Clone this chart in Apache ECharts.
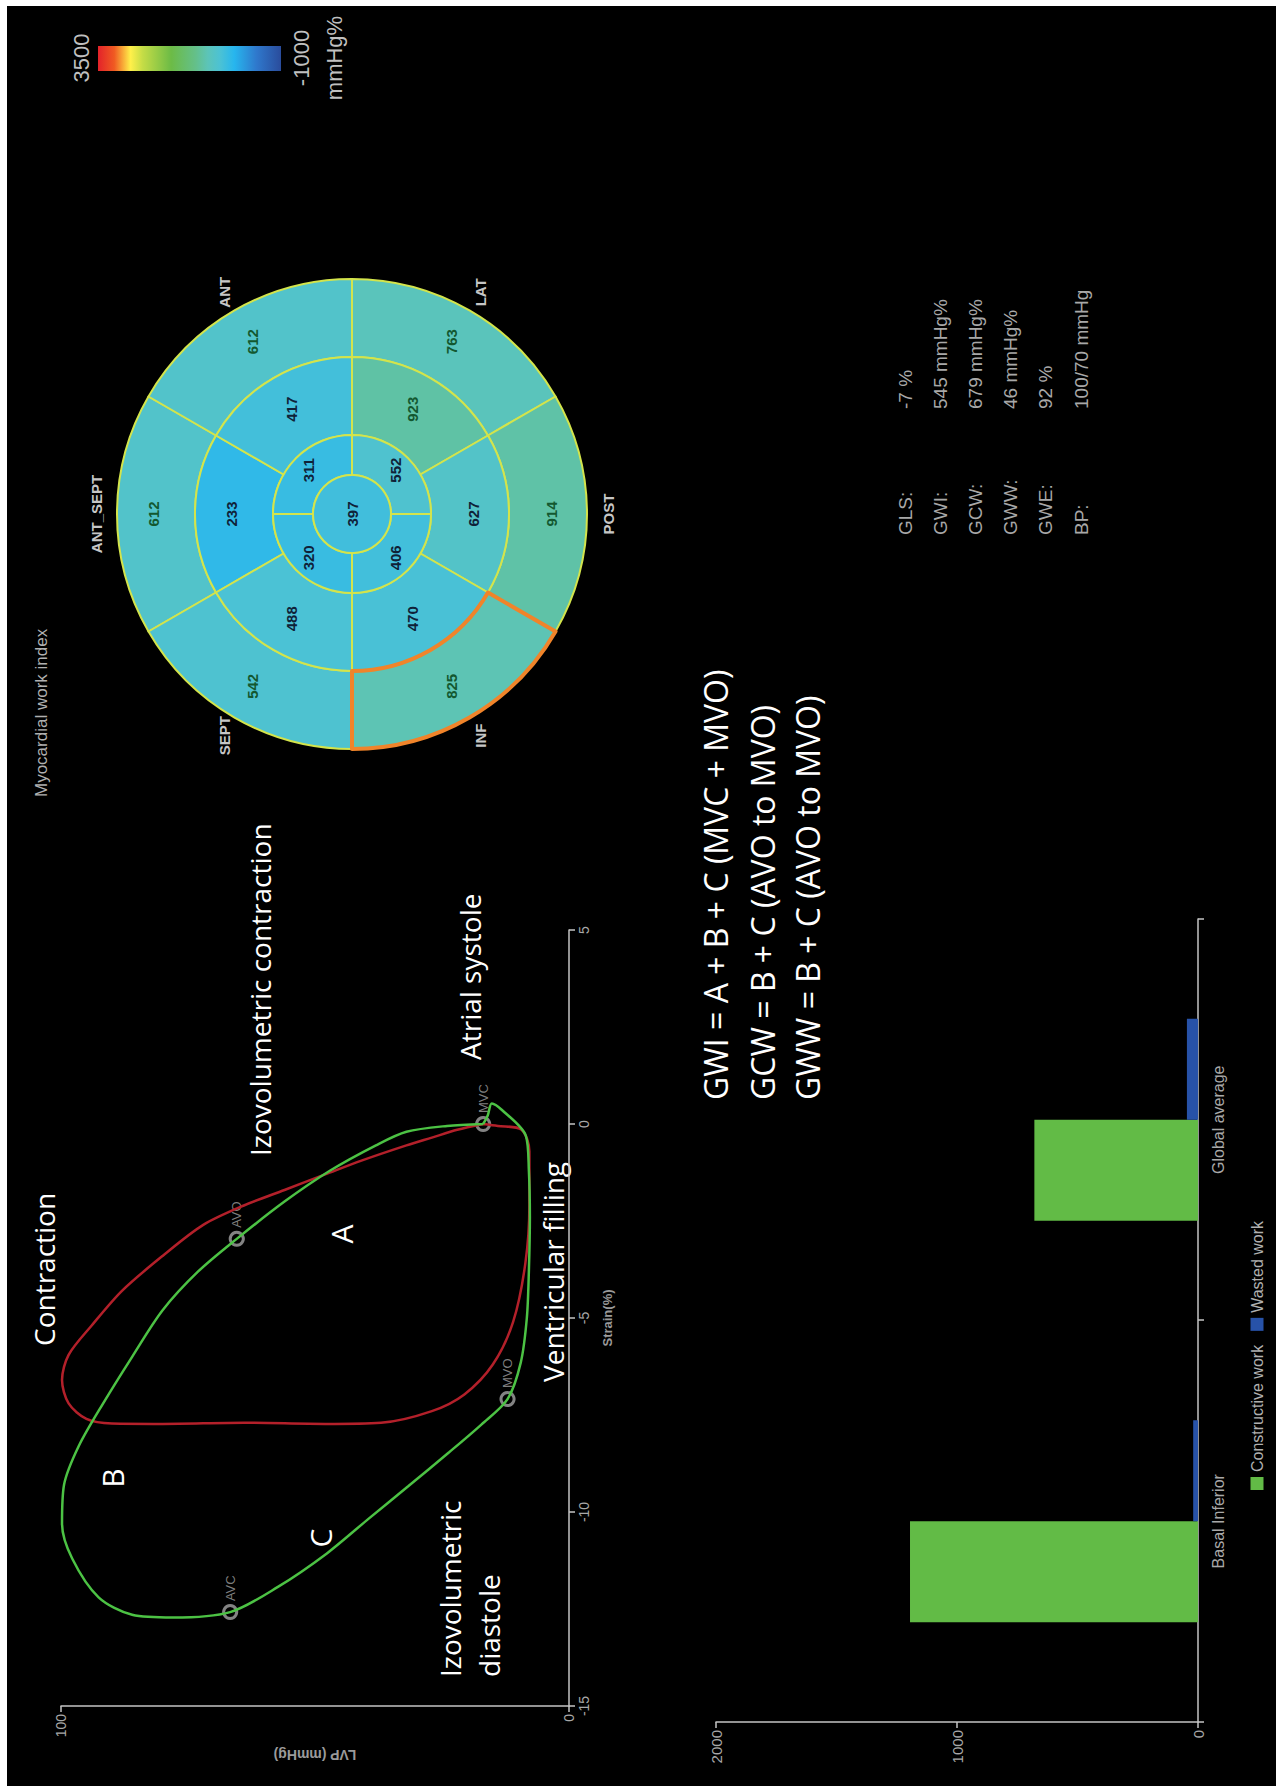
<!DOCTYPE html>
<html>
<head>
<meta charset="utf-8">
<title>Myocardial work</title>
<script src="https://cdn.jsdelivr.net/npm/echarts@6/dist/echarts.min.js"></script>
<style>
html, body { margin: 0; padding: 0; background: #fff; width: 1276px; height: 1786px; overflow: hidden; }
/* the whole screen capture is turned a quarter turn anticlockwise */
#main { position: absolute; left: 0; top: 0; width: 1786px; height: 1276px; transform-origin: 0 0; transform: translateY(1786px) rotate(-90deg); }
</style>
</head>
<body>
<div id="main"></div>
<script>
// pressure-strain loops, [strain %, LVP mmHg]
const greenLoop = [
  [0.0, 16.9], [-0.05, 24], [-0.2, 32], [-0.55, 38], [-1.2, 47], [-2.0, 56], [-2.96, 65.4],
  [-3.8, 73], [-4.8, 80], [-6.0, 86], [-7.2, 91.7], [-8.3, 96.5], [-9.3, 99.4], [-10.3, 99.8],
  [-11.2, 97.8], [-12.2, 92.6], [-12.65, 86], [-12.72, 78], [-12.58, 66.7], [-11.93, 57.3],
  [-11.06, 47.6], [-10.19, 39.6], [-9.33, 31.6], [-8.46, 23.6], [-7.74, 17.2], [-7.09, 12.1],
  [-6.15, 9.5], [-5.0, 8.3], [-3.8, 7.9], [-2.4, 7.7], [-1.2, 7.9], [-0.3, 8.5], [0.36, 13.2],
  [0.53, 15.2], [0.22, 16.0], [0.0, 16.9]
]
const redLoop = [
  [0.0, 16.9], [-0.15, 22], [-0.35, 27], [-0.55, 32], [-0.95, 41], [-1.3, 48], [-1.7, 56],
  [-2.1, 64], [-2.6, 72], [-3.4, 80], [-4.3, 88], [-5.2, 94], [-5.95, 98.5], [-6.6, 99.8],
  [-7.2, 98.5], [-7.6, 95], [-7.72, 90], [-7.73, 80], [-7.7, 64], [-7.73, 48], [-7.7, 37],
  [-7.4, 27], [-6.97, 20.6], [-6.2, 15], [-5.1, 11], [-3.6, 8.6], [-2.1, 7.8], [-0.7, 7.8],
  [-0.14, 9.4], [-0.05, 14], [0.0, 16.9]
]
// valve events on the green loop
const valveEvents = [[0.0, 16.9, 'MVC'], [-2.96, 65.4, 'AVO'], [-12.58, 66.7, 'AVC'], [-7.09, 12.1, 'MVO']]

const barCategories = ['Basal Inferior', 'Global average']
const constructiveWork = [1195, 679]
const wastedWork = [20, 46]

// bull's eye, clockwise from the top segment
const segmentNames = ['ANT_SEPT', 'ANT', 'LAT', 'POST', 'INF', 'SEPT']
const basalWork = [612, 612, 763, 914, 825, 542]
const midWork = [233, 417, 923, 627, 470, 488]
const apicalNames = ['Apical ant', 'Apical lat', 'Apical inf', 'Apical sept']
const apicalWork = [311, 552, 406, 320]
const apexWork = 397

const statLabels = ['GLS:', 'GWI:', 'GCW:', 'GWW:', 'GWE:', 'BP:']
const statValues = ['-7 %', '545 mmHg%', '679 mmHg%', '46 mmHg%', '92 %', '100/70 mmHg']
const formulas = ['GWI = A + B + C (MVC + MVO)', 'GCW = B + C (AVO to MVO)', 'GWW = B + C (AVO to MVO)']
const scaleLabels = ['3500', '-1000', 'mmHg%']

// colour scale of the work index (value, colour)
const scaleStops = [
  [-1000, '#2a4c9c'], [-400, '#2f78cc'], [150, '#27b6ee'], [500, '#4cc2d4'], [800, '#5cc4b8'],
  [1100, '#64c08a'], [1700, '#6cbb46'], [2400, '#c4dc46'], [2700, '#fff04a'], [3100, '#f05a22'], [3500, '#e3222a']
]

function rgb (h) {
  return [1, 3, 5].map(i => parseInt(h.substr(i, 2), 16))
}
function workColor (v) {
  for (let i = 0; i < scaleStops.length - 1; i++) {
    const a = scaleStops[i]
    const b = scaleStops[i + 1]
    if (v >= a[0] && v <= b[0]) {
      const t = (v - a[0]) / (b[0] - a[0])
      const ca = rgb(a[1])
      const cb = rgb(b[1])
      return 'rgb(' + ca.map((c, k) => Math.round(c + (cb[k] - c) * t)).join(',') + ')'
    }
  }
  return scaleStops[0][1]
}

const SANS = '"Liberation Sans", Arial, sans-serif'
const HUMAN = '"Open Sans", "Noto Sans", sans-serif'
const GREY = '#a8a8a8'
const BE_CENTER = [1272, 352]

function txt (x, y, text, font, color, align) {
  return {
    type: 'text', x: x, y: y, silent: true,
    style: { text: text, fill: color, font: font, textAlign: align || 'left', textVerticalAlign: 'middle' }
  }
}

function ring (names, values, r0, r1, start, darkGreen) {
  return {
    type: 'pie',
    center: BE_CENTER,
    radius: [r0, r1],
    startAngle: start,
    clockwise: true,
    silent: true,
    avoidLabelOverlap: false,
    label: {
      show: true,
      position: values.length === 1 ? 'center' : 'inside',
      fontSize: 15,
      fontWeight: 'bold',
      fontFamily: SANS,
      formatter: p => p.data.work
    },
    labelLine: { show: false },
    emphasis: { disabled: true },
    itemStyle: { borderColor: '#d3e44c', borderWidth: 2 },
    data: values.map((v, i) => ({
      name: names[i],
      value: 1,
      work: v,
      itemStyle: { color: workColor(v) },
      label: { color: (darkGreen || v > 900) ? '#135830' : '#0f2238' }
    }))
  }
}

const chart = echarts.init(document.getElementById('main'), null, { renderer: 'svg' })

const graphics = [
  { type: 'rect', silent: true, shape: { x: 0, y: 0, width: 1786, height: 7 }, style: { fill: '#fff' } },
  { type: 'rect', silent: true, shape: { x: 1780, y: 0, width: 6, height: 1276 }, style: { fill: '#fff' } },
  // colour bar
  {
    type: 'rect', silent: true,
    shape: { x: 1715, y: 98, width: 25, height: 183 },
    style: {
      fill: new echarts.graphic.LinearGradient(0, 0, 0, 1,
        scaleStops.slice().reverse().map(s => ({ offset: (3500 - s[0]) / 4500, color: s[1] })))
    }
  },
  txt(1728, 81, scaleLabels[0], '22px ' + SANS, '#c0c0c0', 'center'),
  txt(1728, 301, scaleLabels[1], '22px ' + SANS, '#c0c0c0', 'center'),
  txt(1728, 334, scaleLabels[2], '22px ' + SANS, '#c0c0c0', 'center'),
  txt(989, 41, 'Myocardial work index', '17px ' + SANS, '#b0b0b0'),
  // loop annotations
  txt(440, 44, 'Contraction', '28px ' + HUMAN, '#fff'),
  txt(630, 260, 'Izovolumetric contraction', '28px ' + HUMAN, '#fff'),
  txt(726, 470, 'Atrial systole', '28px ' + HUMAN, '#fff'),
  txt(404, 553, 'Ventricular filling', '28px ' + HUMAN, '#fff'),
  txt(109, 450, 'Izovolumetric', '28px ' + HUMAN, '#fff'),
  txt(109, 489, 'diastole', '28px ' + HUMAN, '#fff'),
  txt(552, 341, 'A', '30px ' + HUMAN, '#fff', 'center'),
  txt(308, 112, 'B', '30px ' + HUMAN, '#fff', 'center'),
  txt(248, 320, 'C', '30px ' + HUMAN, '#fff', 'center')
]
formulas.forEach((f, i) => graphics.push(txt(686, [715, 762, 807][i], f, '32px ' + HUMAN, '#fff')))
statLabels.forEach((s, i) => {
  graphics.push(txt(1251, 905 + 35.2 * i, s, '19px ' + SANS, GREY))
  graphics.push(txt(1377, 905 + 35.2 * i, statValues[i], '19px ' + SANS, GREY))
})
// wall names round the bull's eye
const wallAngles = [90, 30, -30, -90, -150, 150]
segmentNames.forEach((n, i) => {
  const a = wallAngles[i] * Math.PI / 180
  graphics.push(txt(BE_CENTER[0] + 256 * Math.cos(a), BE_CENTER[1] - 256 * Math.sin(a), n,
    'bold 15px ' + SANS, '#c6c6c6', 'center'))
})

const axisGrey = { lineStyle: { color: '#c4c4c4', width: 1.5 } }

const option = {
  backgroundColor: '#000',
  animation: false,
  textStyle: { fontFamily: SANS },
  grid: [
    { left: 80, top: 61, width: 776, height: 508, outerBoundsMode: 'none' },
    { left: 64, top: 716, width: 803, height: 482, outerBoundsMode: 'none' }
  ],
  xAxis: [
    {
      gridIndex: 0, type: 'value', min: -15, max: 5, interval: 5,
      name: 'Strain(%)', nameLocation: 'middle', nameGap: 32,
      nameTextStyle: { color: '#9a9a9a', fontSize: 13, fontWeight: 'bold' },
      axisLine: { show: true, onZero: false, ...axisGrey },
      axisTick: { show: true, length: 6, ...axisGrey },
      axisLabel: { color: GREY, fontSize: 14 },
      splitLine: { show: false }
    },
    {
      gridIndex: 1, type: 'category', data: barCategories,
      axisLine: { show: true, onZero: false, ...axisGrey },
      axisTick: { show: true, length: 6, ...axisGrey },
      axisLabel: { color: GREY, fontSize: 16, margin: 12 },
      splitLine: { show: false }
    }
  ],
  yAxis: [
    {
      gridIndex: 0, type: 'value', min: 0, max: 100, interval: 100,
      name: 'LVP (mmHg)', nameLocation: 'middle', nameGap: 42,
      nameTextStyle: { color: '#9a9a9a', fontSize: 14, fontWeight: 'bold' },
      axisLine: { show: true, onZero: false, ...axisGrey },
      axisTick: { show: true, length: 6, ...axisGrey },
      axisLabel: { color: GREY, fontSize: 14 },
      splitLine: { show: false }
    },
    {
      gridIndex: 1, type: 'value', min: 0, max: 2000, interval: 1000,
      axisLine: { show: true, onZero: false, ...axisGrey },
      axisTick: { show: true, length: 6, ...axisGrey },
      axisLabel: { color: GREY, fontSize: 15, formatter: v => String(v) },
      splitLine: { show: false }
    }
  ],
  legend: {
    data: ['Constructive work', 'Wasted work'],
    left: 291, top: 1244,
    icon: 'rect', itemWidth: 13, itemHeight: 13, itemGap: 14,
    selectedMode: false,
    textStyle: { color: '#b0b0b0', fontSize: 16 }
  },
  series: [
    {
      name: 'red loop', type: 'line', xAxisIndex: 0, yAxisIndex: 0,
      data: redLoop, showSymbol: false, smooth: 0.3, silent: true,
      lineStyle: { color: '#b3202a', width: 2.5 }
    },
    {
      name: 'green loop', type: 'line', xAxisIndex: 0, yAxisIndex: 0,
      data: greenLoop, showSymbol: false, smooth: 0.3, silent: true,
      lineStyle: { color: '#4cc244', width: 2.5 }
    },
    {
      name: 'valve events', type: 'scatter', xAxisIndex: 0, yAxisIndex: 0,
      data: valveEvents, symbolSize: 13, silent: true,
      itemStyle: { color: 'rgba(0,0,0,0)', borderColor: '#a4a4a4', borderWidth: 3 },
      label: { show: true, position: 'right', distance: 3, color: '#a0a0a0', fontSize: 13, formatter: p => p.value[2] }
    },
    {
      name: 'Constructive work', type: 'bar', xAxisIndex: 1, yAxisIndex: 1,
      data: constructiveWork, barWidth: 101, barGap: '0%', silent: true,
      itemStyle: { color: '#62bb46' }
    },
    {
      name: 'Wasted work', type: 'bar', xAxisIndex: 1, yAxisIndex: 1,
      data: wastedWork, barWidth: 101, barGap: '0%', silent: true,
      itemStyle: { color: '#2752a8' }
    },
    ring(segmentNames, basalWork, 157, 235, 120, true),
    ring(segmentNames, midWork, 79, 157, 120, false),
    ring(apicalNames, apicalWork, 39, 79, 90, false),
    ring(['Apex'], [apexWork], 0, 39, 90, false),
    {
      // highlighted basal inferior segment
      type: 'pie', center: BE_CENTER, radius: [157, 235], startAngle: 120, clockwise: true,
      silent: true, label: { show: false }, labelLine: { show: false }, emphasis: { disabled: true },
      data: segmentNames.map(n => ({
        name: n, value: 1,
        itemStyle: n === 'INF'
          ? { color: 'rgba(0,0,0,0)', borderColor: '#f0842a', borderWidth: 4 }
          : { color: 'rgba(0,0,0,0)', borderWidth: 0 }
      }))
    }
  ],
  graphic: graphics
}

chart.setOption(option)
</script>
</body>
</html>
